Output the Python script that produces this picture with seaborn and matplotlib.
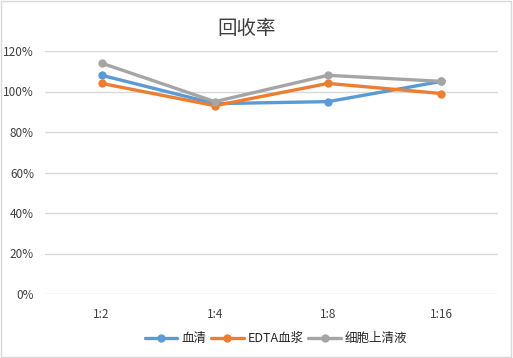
import matplotlib
matplotlib.use("Agg")
import matplotlib.pyplot as plt
import pandas as pd
import seaborn as sns

# Dilution ratios and recovery (%) per sample type
ratios = ["1:2", "1:4", "1:8", "1:16"]
serum = [108, 94, 95, 105]
edta_plasma = [104, 93, 104, 99]
supernatant = [114, 95, 108, 105]
series_names = ["血清", "EDTA血浆", "细胞上清液"]
colors = ["#5B9BD5", "#ED7D31", "#A5A5A5"]

df = pd.DataFrame({
    "ratio": ratios * 3,
    "recovery": serum + edta_plasma + supernatant,
    "sample": [series_names[0]] * 4 + [series_names[1]] * 4 + [series_names[2]] * 4,
})

sns.set_style("white")
plt.rcParams["font.family"] = ["Noto Sans CJK SC", "DejaVu Sans"]

fig = plt.figure(figsize=(5.13, 3.58), dpi=100)
ax = fig.add_axes([45 / 513, 64 / 358, 453 / 513, 243 / 358])

sns.lineplot(data=df, x="ratio", y="recovery", hue="sample", palette=colors,
             marker="o", markersize=6, markeredgewidth=0, linewidth=2.4,
             sort=False, ax=ax)

ax.set_xlim(-0.5, 3.5)
ax.set_ylim(0, 120)
ax.set_yticks(range(0, 121, 20))
ax.set_yticklabels([f"{v}%" for v in range(0, 121, 20)])
ax.grid(axis="y", color="#D9D9D9", linewidth=1)
ax.set_axisbelow(True)
for s in ax.spines.values():
    s.set_visible(False)
ax.tick_params(axis="both", length=0, labelsize=8.5, colors="#404040", pad=8)
ax.tick_params(axis="x", pad=10)
ax.set_xlabel("")
ax.set_ylabel("")
fig.text(247 / 513, 1 - 29 / 358, "回收率", fontsize=14, color="#404040",
         ha="center", va="center")

handles, labels = ax.get_legend_handles_labels()
ax.legend(handles, labels, loc="upper center", bbox_to_anchor=(0.51, -0.11),
          ncol=3, frameon=False, fontsize=9, handlelength=2.6,
          columnspacing=0.4, handletextpad=0.3)

# light border around the chart area
fig.patches.append(plt.Rectangle((0.002, 0.003), 0.995, 0.993, transform=fig.transFigure,
                                 fill=False, edgecolor="#D9D9D9", linewidth=1))

fig.savefig("out.png", dpi=100)
